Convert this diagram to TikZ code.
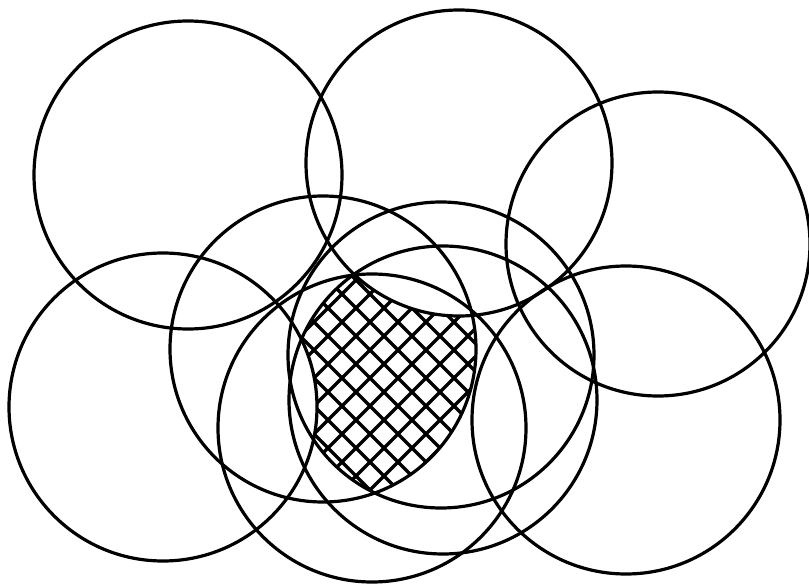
\documentclass[tikz,border=0pt]{standalone}
\begin{document}
\begin{tikzpicture}[x=1pt, y=-1pt,
  ring/.style={line width=3.2pt},
  hatch/.style={line width=3.2pt}]
  \useasboundingbox (0,0) rectangle (809,586);
  % centres of the discs
  \coordinate (A) at (188,175);
  \coordinate (B) at (459,163);
  \coordinate (C) at (658,244);
  \coordinate (D) at (163,407);
  \coordinate (E) at (323,349);
  \coordinate (F) at (441,355);
  \coordinate (G) at (372,428);
  \coordinate (H) at (443,400);
  \coordinate (I) at (626,420);
  % cross-hatched part
  \begin{scope}[even odd rule]
    \clip (E) circle (153);
    \clip (F) circle (153);
    \clip (H) circle (154);
    \clip (0,0) rectangle (809,586) (B) circle (153) (D) circle (154);
    \foreach \c in {300,328,...,1200}
      \draw[hatch] (\c,0) -- (\c-600,600);
    \foreach \c in {-400,-372,...,600}
      \draw[hatch] (\c,0) -- (\c+600,600);
  \end{scope}
  % the discs
  \draw[ring] (A) circle (154);
  \draw[ring] (B) circle (153);
  \draw[ring] (C) circle (152);
  \draw[ring] (D) circle (154);
  \draw[ring] (E) circle (153);
  \draw[ring] (F) circle (153);
  \draw[ring] (G) circle (154);
  \draw[ring] (H) circle (154);
  \draw[ring] (I) circle (154);
\end{tikzpicture}
\end{document}
